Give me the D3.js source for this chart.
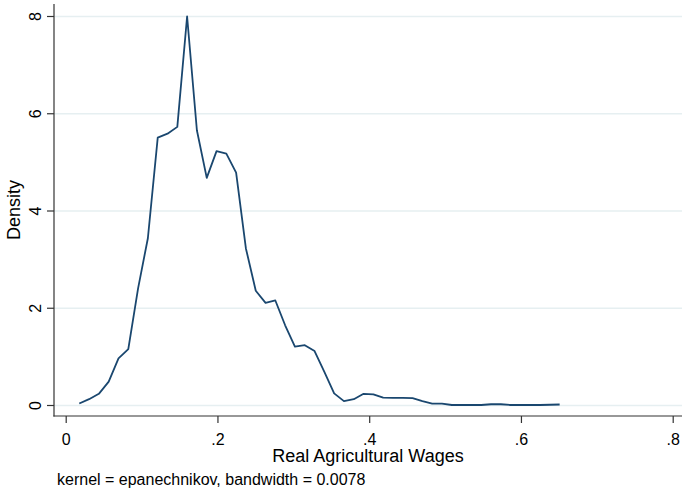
<!DOCTYPE html>
<html lang="en">
<head>
    <meta charset="utf-8">
    <title>Kernel density</title>
    <script type="text/javascript" src="https://d3js.org/d3.v7.min.js"></script>
    <style>
        body { margin: 0; background: white; }
        svg text { font-family: "Liberation Sans", Arial, sans-serif; fill: #000; }
        .grid line { stroke: #e6eff1; stroke-width: 1.5; }
        .grid path { display: none; }
        .axis path { display: none; }
        .axis line { stroke: #333; stroke-width: 1.2; }
    </style>
</head>
<body>
    <div id="chart"></div>
    <script type="text/javascript">
        // evaluation points (real agricultural wages) and estimated density
        const wages = [0.0179, 0.0308, 0.0437, 0.0567, 0.0696, 0.0825, 0.0954, 0.1083, 0.1213, 0.1342,
                       0.1471, 0.1600, 0.1729, 0.1859, 0.1988, 0.2117, 0.2246, 0.2375, 0.2505, 0.2634,
                       0.2763, 0.2892, 0.3021, 0.3151, 0.3280, 0.3409, 0.3538, 0.3667, 0.3797, 0.3926,
                       0.4055, 0.4184, 0.4313, 0.4443, 0.4572, 0.4701, 0.4830, 0.4959, 0.5089, 0.5218,
                       0.5347, 0.5476, 0.5605, 0.5735, 0.5864, 0.5993, 0.6122, 0.6251, 0.6381, 0.6510];
        const density = [0.03, 0.12, 0.23, 0.48, 0.96, 1.15, 2.40, 3.43, 5.50, 5.58,
                         5.72, 7.99, 5.65, 4.67, 5.22, 5.17, 4.78, 3.22, 2.35, 2.10,
                         2.15, 1.64, 1.20, 1.23, 1.11, 0.68, 0.24, 0.08, 0.12, 0.23,
                         0.22, 0.15, 0.145, 0.145, 0.14, 0.08, 0.03, 0.03, 0.0, 0.0,
                         0.0, 0.0, 0.015, 0.015, 0.0, 0.0, 0.0, 0.0, 0.005, 0.01];
        const xTicks = [0, 0.2, 0.4, 0.6, 0.8];
        const yTicks = [0, 2, 4, 6, 8];

        const width = 682;
        const height = 493;
        const plot = {left: 54, right: 682, top: 4, bottom: 416};

        const svg = d3.select("#chart")
            .append("svg")
            .attr("width", width)
            .attr("height", height);

        const x = d3.scaleLinear().domain([0, 0.8]).range([65.7, 672.7]);
        const y = d3.scaleLinear().domain([0, 8]).range([405, 16]);

        // gridlines
        svg.append("g")
            .attr("class", "grid")
            .attr("transform", `translate(${plot.left}, 0)`)
            .call(d3.axisRight(y).tickValues(yTicks).tickSize(plot.right - plot.left).tickFormat(""));

        // density line
        const pts = wages.map((w, i) => [w, density[i]]);
        svg.append("path")
            .datum(pts)
            .attr("fill", "none")
            .attr("stroke", "#1a476f")
            .attr("stroke-width", 1.8)
            .attr("stroke-linejoin", "round")
            .attr("d", d3.line().x(d => x(d[0])).y(d => y(d[1])));

        // axis lines
        svg.append("line")
            .attr("x1", plot.left).attr("x2", plot.left)
            .attr("y1", plot.top).attr("y2", plot.bottom + 0.6)
            .attr("stroke", "#333").attr("stroke-width", 1.2);
        svg.append("line")
            .attr("x1", plot.left - 0.6).attr("x2", plot.right)
            .attr("y1", plot.bottom).attr("y2", plot.bottom)
            .attr("stroke", "#333").attr("stroke-width", 1.2);

        // y axis
        const yAxis = svg.append("g")
            .attr("class", "axis y")
            .attr("transform", `translate(${plot.left}, 0)`)
            .call(d3.axisLeft(y).tickValues(yTicks).tickSize(7).tickFormat(d3.format("d")));
        yAxis.selectAll("text")
            .attr("x", null).attr("dy", null)
            .attr("transform", "translate(-13, 0) rotate(-90)")
            .attr("text-anchor", "middle")
            .style("font-size", "16px");

        // x axis
        const fmt = d => d === 0 ? "0" : d3.format(".1f")(d).replace(/^0/, "");
        const xAxis = svg.append("g")
            .attr("class", "axis x")
            .attr("transform", `translate(0, ${plot.bottom})`)
            .call(d3.axisBottom(x).tickValues(xTicks).tickSize(7).tickFormat(fmt));
        xAxis.selectAll("text")
            .attr("y", 29).attr("dy", null)
            .style("font-size", "16px");

        // titles
        svg.append("text")
            .attr("x", (plot.left + plot.right) / 2)
            .attr("y", 462)
            .attr("text-anchor", "middle")
            .style("font-size", "18px")
            .text("Real Agricultural Wages");

        svg.append("text")
            .attr("transform", `translate(19.5, ${(plot.top + plot.bottom) / 2}) rotate(-90)`)
            .attr("text-anchor", "middle")
            .style("font-size", "18px")
            .text("Density");

        svg.append("text")
            .attr("x", 57)
            .attr("y", 485)
            .style("font-size", "16px")
            .text("kernel = epanechnikov, bandwidth = 0.0078");
    </script>
</body>
</html>
